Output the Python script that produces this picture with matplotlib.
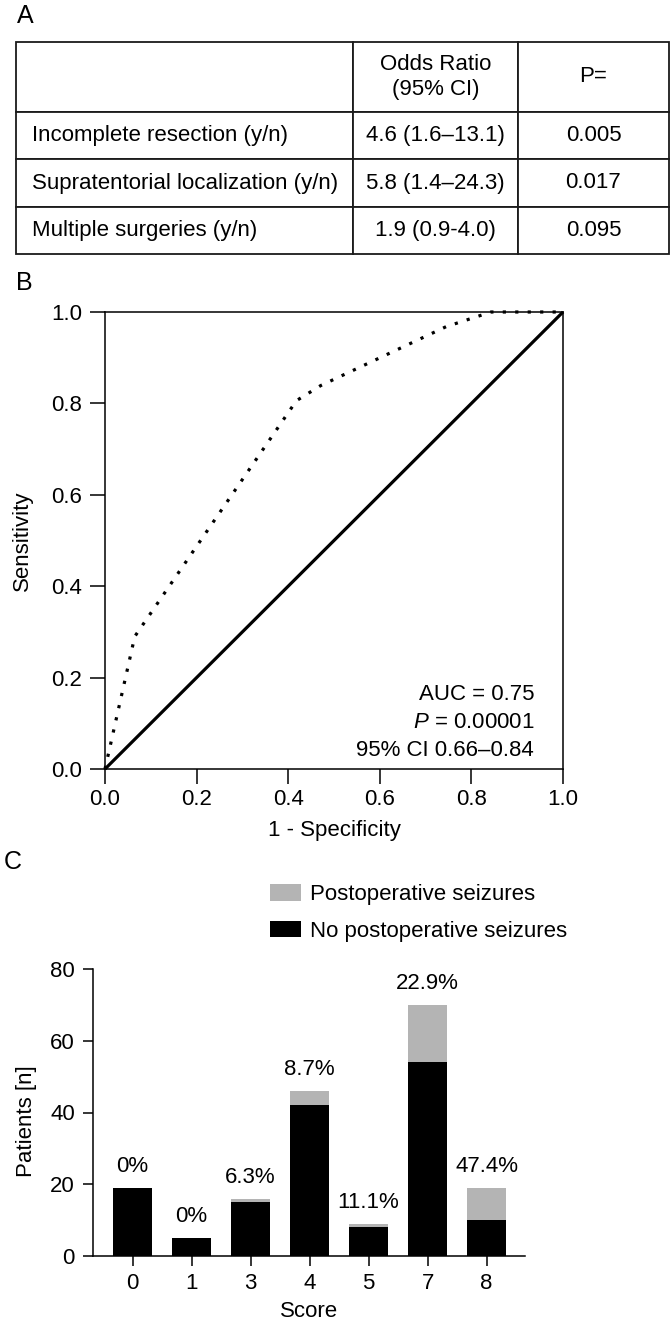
import numpy as np
import matplotlib
matplotlib.use("Agg")
import matplotlib.pyplot as plt
from matplotlib.patches import Patch
from matplotlib.ticker import FormatStrFormatter

plt.rcParams['font.family'] = ['Liberation Sans', 'DejaVu Sans']
plt.rcParams['mathtext.fontset'] = 'custom'
plt.rcParams['mathtext.rm'] = 'Liberation Sans'
plt.rcParams['mathtext.it'] = 'Liberation Sans:italic'

# ---------------- data ----------------
# Panel A table
table_header = ["", "Odds Ratio\n(95% CI)", "P="]
factors = ["Incomplete resection (y/n)", "Supratentorial localization (y/n)", "Multiple surgeries (y/n)"]
odds_ratios = ["4.6 (1.6\u201313.1)", "5.8 (1.4\u201324.3)", "1.9 (0.9-4.0)"]
p_values = ["0.005", "0.017", "0.095"]

# Panel B ROC
roc_fpr = [0.0, 0.065, 0.418, 0.471, 0.745, 0.843, 1.0]
roc_tpr = [0.0, 0.290, 0.806, 0.839, 0.968, 1.0, 1.0]
ref_line = [0.0, 1.0]
roc_ticks = [0.0, 0.2, 0.4, 0.6, 0.8, 1.0]
stats_lines = ["AUC = 0.75", "$P$ = 0.00001", "95% CI 0.66\u20130.84"]

# Panel C bars
scores = ["0", "1", "3", "4", "5", "7", "8"]
no_seizures = [19, 5, 15, 42, 8, 54, 10]
seizures = [0, 0, 1, 4, 1, 16, 9]
pct_labels = ["0%", "0%", "6.3%", "8.7%", "11.1%", "22.9%", "47.4%"]
c_yticks = [0, 20, 40, 60, 80]

# ---------------- layout helpers ----------------
W, H = 670, 1325
fig = plt.figure(figsize=(W / 100, H / 100), dpi=100)
FS = 16


def rect(l, t, r, b):
    return [l / W, 1 - b / H, (r - l) / W, (b - t) / H]


def fig_xy(x, y):
    return x / W, 1 - y / H

# ---------------- Panel A ----------------
fig.text(*fig_xy(25, 16), "A", fontsize=18, ha='center', va='center')
ax_t = fig.add_axes(rect(16, 42, 669, 254))
ax_t.axis('off')
body = [[f, o, p] for f, o, p in zip(factors, odds_ratios, p_values)]
tab = ax_t.table(cellText=body, colLabels=table_header, cellLoc='center',
                 bbox=[0, 0, 1, 1])
tab.auto_set_font_size(False)
tab.set_fontsize(FS)
col_w = [337, 165, 151]
row_h = [70, 47, 48, 47]
for (r, c), cell in tab.get_celld().items():
    cell.set_width(col_w[c])
    cell.set_height(row_h[r])
    cell.set_linewidth(1.3)
    cell.set_edgecolor('#1a1a1a')
    cell.get_text().set_fontsize(FS)
    if c == 0:
        cell.get_text().set_ha('left')
        cell.PAD = 16 / 337

# ---------------- Panel B ----------------
fig.text(*fig_xy(24, 283), "B", fontsize=18, ha='center', va='center')
ax_b = fig.add_axes(rect(105, 312, 563, 769))
ax_b.plot(ref_line, ref_line, color='black', lw=2.3, clip_on=False,
          solid_capstyle='butt')
ax_b.plot(roc_fpr, roc_tpr, color='black', lw=2.3, ls=(0, (1, 2.9)),
          clip_on=False)
ax_b.set_xlim(0, 1)
ax_b.set_ylim(0, 1)
ax_b.set_xticks(roc_ticks)
ax_b.set_yticks(roc_ticks)
ax_b.xaxis.set_major_formatter(FormatStrFormatter('%.1f'))
ax_b.yaxis.set_major_formatter(FormatStrFormatter('%.1f'))
ax_b.tick_params(direction='out', length=10.5, width=1.1, labelsize=FS)
ax_b.tick_params(axis='x', pad=4)
ax_b.tick_params(axis='y', pad=6)
for s in ax_b.spines.values():
    s.set_linewidth(1.1)
ax_b.set_xlabel("1 - Specificity", fontsize=FS, va='center')
ax_b.xaxis.set_label_coords(0.5, -0.1335)
ax_b.set_ylabel("Sensitivity", fontsize=FS, va='center')
ax_b.yaxis.set_label_coords(-0.181, 0.5)
for yy, line in zip([0.162, 0.101, 0.041], stats_lines):
    ax_b.text(0.937, yy, line, fontsize=FS, ha='right', va='center',
              transform=ax_b.transAxes)

# ---------------- Panel C ----------------
fig.text(*fig_xy(13, 862), "C", fontsize=18, ha='center', va='center')
ax_c = fig.add_axes(rect(93, 969, 525, 1256))
x = np.arange(len(scores))
gray = '#b4b4b4'
ax_c.bar(x, no_seizures, width=0.66, color='black', linewidth=0)
ax_c.bar(x, seizures, bottom=no_seizures, width=0.66, color=gray, linewidth=0)
totals = np.array(no_seizures) + np.array(seizures)
for xi, tot, lab in zip(x, totals, pct_labels):
    ax_c.text(xi, tot + 6, lab, fontsize=FS, ha='center', va='center')
ax_c.set_xlim(-0.67, 6.65)
ax_c.set_ylim(0, 80)
ax_c.set_xticks(x)
ax_c.set_xticklabels(scores)
ax_c.set_yticks(c_yticks)
ax_c.spines['top'].set_visible(False)
ax_c.spines['right'].set_visible(False)
for s in ax_c.spines.values():
    s.set_linewidth(1.1)
ax_c.tick_params(direction='out', length=7, width=1.1, labelsize=FS)
ax_c.tick_params(axis='x', pad=5)
ax_c.tick_params(axis='y', pad=6)
ax_c.set_xlabel("Score", fontsize=FS, va='center')
ax_c.xaxis.set_label_coords(0.5, -0.195)
ax_c.set_ylabel("Patients [n]", fontsize=FS, va='center')
ax_c.yaxis.set_label_coords(-0.153, 0.47)

handles = [Patch(facecolor=gray, edgecolor='none', label="Postoperative seizures"),
           Patch(facecolor='black', edgecolor='none', label="No postoperative seizures")]
fig.legend(handles=handles, loc='upper left', bbox_to_anchor=fig_xy(270, 884),
           frameon=False, fontsize=FS, handlelength=1.4, handleheight=0.77,
           handletextpad=0.4, labelspacing=0.7, borderpad=0, borderaxespad=0)

fig.savefig("out.png", dpi=100)
